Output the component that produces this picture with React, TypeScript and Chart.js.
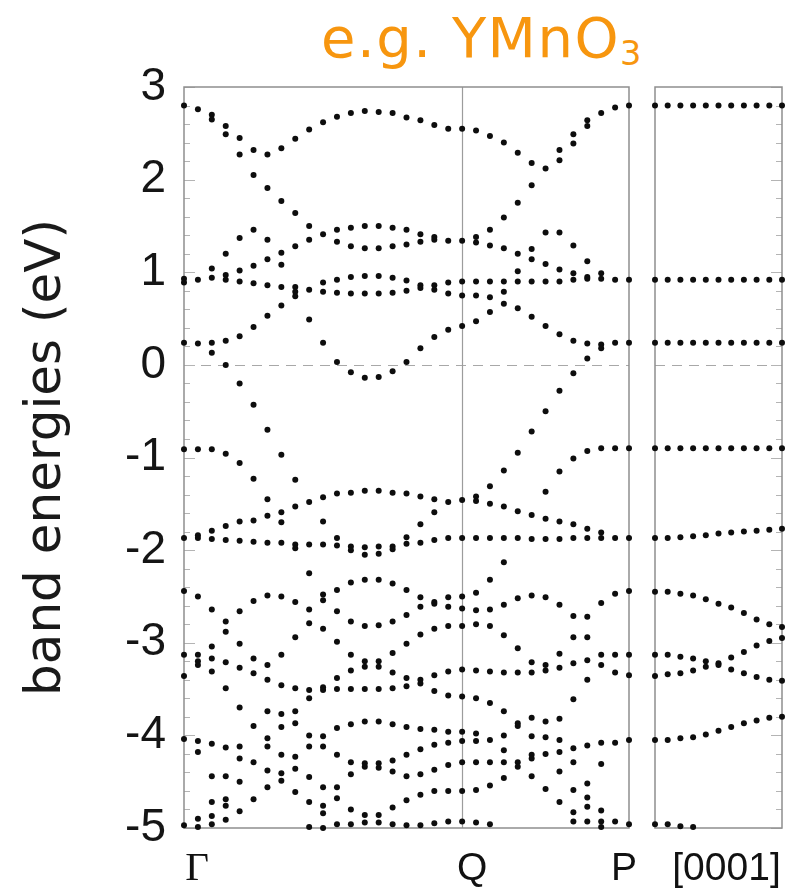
import React, { useEffect, useRef } from "react";
import { Chart, registerables } from "chart.js";

Chart.register(...registerables);

// ---------- axis / label data ----------
const yTickValues = [3, 2, 1, 0, -1, -2, -3, -4, -5];
const pathLabels = ["Γ", "Q", "P"];
const pathLabelK = [0, 20, 32];
const sideLabel = "[0001]";
const yTitle = "band energies (eV)";

// ---------- band energies (eV) of the dots at each k-point Γ → Q → P ----------
const k0 = [2.80, 0.93, 0.89, 0.24, -0.91, -1.87, -2.44, -3.13, -3.36, -4.04, -4.97];
const k1 = [2.76, 0.92, 0.23, -0.91, -1.84, -1.87, -2.50, -3.13, -3.20, -3.24, -4.06, -4.18, -4.90, -4.99];
const k2 = [2.70, 2.65, 1.04, 0.94, 0.24, 0.13, -0.91, -1.79, -1.88, -2.64, -3.04, -3.17, -3.31, -4.09, -4.44, -4.72, -4.87, -4.96];
const k3 = [2.58, 2.49, 1.20, 0.97, 0.92, 0.26, 0.00, -0.96, -1.74, -1.89, -2.77, -2.88, -3.21, -3.49, -4.13, -4.44, -4.69, -4.76, -4.91];
const k4 = [2.45, 2.27, 1.37, 1.02, 0.90, 0.31, -0.20, -1.06, -1.69, -1.90, -2.66, -3.01, -3.27, -3.70, -4.12, -4.25, -4.50, -4.82];
const k5 = [2.32, 2.05, 1.46, 1.07, 0.88, 0.41, -0.43, -1.23, -1.68, -1.91, -2.55, -3.17, -3.33, -3.90, -4.29, -4.69];
const k6 = [2.27, 1.91, 1.35, 1.14, 0.86, 0.53, -0.70, -1.45, -1.63, -1.92, -2.49, -3.24, -3.40, -3.74, -4.03, -4.12, -4.38, -4.56];
const k7 = [2.34, 1.77, 1.21, 1.08, 0.84, 0.64, -0.97, -1.59, -1.70, -1.92, -2.50, -3.13, -3.46, -3.77, -3.91, -4.21, -4.41, -4.49];
const k8 = [2.44, 1.64, 1.28, 0.84, 0.79, 0.74, -1.24, -1.53, -1.94, -1.98, -2.56, -2.94, -3.49, -3.74, -3.87, -4.23, -4.36, -4.61];
const k9 = [2.54, 1.50, 1.35, 0.81, 0.49, -1.48, -1.94, -2.25, -2.64, -2.79, -3.51, -3.60, -4.00, -4.12, -4.45, -4.72, -4.99];
const k10 = [2.62, 1.41, 0.89, 0.79, 0.24, -1.43, -1.69, -1.94, -2.48, -2.54, -2.85, -3.48, -3.51, -4.01, -4.12, -4.56, -4.76, -4.84, -5.00];
const k11 = [2.68, 1.46, 1.33, 0.92, 0.78, 0.03, -1.39, -1.87, -1.95, -2.43, -2.66, -2.99, -3.38, -3.50, -3.92, -4.21, -4.56, -4.68, -4.96];
const k12 = [2.72, 1.48, 1.28, 0.95, 0.77, -0.08, -1.38, -1.96, -2.00, -2.35, -2.77, -3.13, -3.30, -3.50, -3.88, -4.29, -4.42, -4.80, -4.96];
const k13 = [2.74, 1.50, 1.26, 0.96, 0.77, -0.14, -1.36, -1.97, -2.05, -2.32, -2.82, -3.20, -3.26, -3.50, -3.85, -4.30, -4.34, -4.86, -4.94];
const k14 = [2.73, 1.50, 1.26, 0.96, 0.77, -0.13, -1.36, -1.96, -2.04, -2.32, -2.81, -3.20, -3.26, -3.50, -3.85, -4.30, -4.35, -4.86, -4.94];
const k15 = [2.72, 1.48, 1.28, 0.94, 0.78, -0.07, -1.38, -1.96, -1.99, -2.36, -2.77, -3.11, -3.32, -3.49, -3.88, -4.27, -4.39, -4.78, -4.96];
const k16 = [2.67, 1.46, 1.30, 0.91, 0.80, 0.03, -1.39, -1.86, -1.93, -2.43, -2.70, -3.01, -3.38, -3.47, -3.91, -4.21, -4.44, -4.70, -4.97];
const k17 = [2.64, 1.41, 1.33, 0.86, 0.83, 0.18, -1.42, -1.72, -1.92, -2.51, -2.61, -2.91, -3.40, -3.44, -3.93, -4.15, -4.42, -4.64, -4.97];
const k18 = [2.59, 1.38, 1.35, 0.86, 0.81, 0.30, -1.45, -1.59, -1.89, -2.56, -2.58, -2.85, -3.35, -3.52, -3.94, -4.10, -4.37, -4.60, -4.95];
const k19 = [2.55, 1.34, 0.89, 0.77, 0.38, -1.48, -1.87, -2.51, -2.61, -2.82, -3.31, -3.57, -3.96, -4.08, -4.32, -4.60, -4.93];
const k20 = [2.55, 1.34, 0.90, 0.75, 0.42, -1.46, -1.87, -2.50, -2.63, -2.82, -3.29, -3.58, -3.96, -4.06, -4.29, -4.60, -4.93];
const k21 = [2.53, 1.38, 1.32, 0.90, 0.75, 0.47, -1.42, -1.47, -1.87, -2.46, -2.65, -2.80, -3.30, -3.60, -3.98, -4.06, -4.29, -4.59, -4.94];
const k22 = [2.47, 1.46, 1.29, 0.90, 0.73, 0.57, -1.31, -1.50, -1.87, -2.32, -2.64, -2.82, -3.31, -3.65, -4.05, -4.29, -4.54, -4.96];
const k23 = [2.40, 1.59, 1.26, 0.90, 0.79, 0.66, -1.14, -1.53, -1.87, -2.13, -2.59, -2.92, -3.32, -3.74, -4.00, -4.16, -4.29, -4.46];
const k24 = [2.29, 1.75, 1.20, 1.01, 0.90, 0.61, -0.95, -1.58, -1.87, -2.52, -3.06, -3.32, -3.87, -3.90, -4.29, -4.34];
const k25 = [2.18, 1.94, 1.25, 1.14, 0.90, 0.52, -0.72, -1.62, -1.88, -2.49, -3.21, -3.32, -3.81, -4.01, -4.21, -4.25, -4.44];
const k26 = [2.12, 1.43, 1.09, 0.90, 0.42, -0.50, -1.37, -1.66, -1.88, -2.51, -3.24, -3.30, -3.85, -4.02, -4.20, -4.58];
const k27 = [2.32, 2.21, 1.43, 1.03, 0.90, 0.33, -0.28, -1.15, -1.69, -1.88, -2.59, -3.12, -3.27, -3.82, -4.05, -4.18, -4.39, -4.72];
const k28 = [2.49, 2.39, 1.29, 0.99, 0.92, 0.26, -0.09, -1.01, -1.72, -1.87, -2.71, -2.94, -3.22, -3.61, -4.14, -4.29, -4.59, -4.83, -4.93];
const k29 = [2.64, 2.58, 1.12, 0.95, 0.93, 0.23, 0.07, -0.93, -1.77, -1.87, -2.72, -2.94, -3.19, -3.40, -4.11, -4.52, -4.67, -4.77, -4.93];
const k30 = [2.72, 0.99, 0.93, 0.22, 0.18, -0.90, -1.81, -1.87, -2.57, -3.13, -3.24, -4.08, -4.31, -4.81, -4.93, -4.99];
const k31 = [2.78, 0.92, 0.24, -0.90, -1.87, -2.47, -3.13, -3.32, -4.08, -4.93];
const k32 = [2.80, 0.92, 0.24, -0.90, -1.87, -2.44, -3.13, -3.35, -4.05, -4.96];

const pathColumns = [k0, k1, k2, k3, k4, k5, k6, k7, k8, k9, k10, k11, k12, k13, k14, k15, k16,
  k17, k18, k19, k20, k21, k22, k23, k24, k25, k26, k27, k28, k29, k30, k31, k32];

// ---------- [0001] direction: bands over 11 k-points ----------
const c0001A = [2.80, 2.80, 2.80, 2.80, 2.80, 2.80, 2.80, 2.80, 2.80, 2.80, 2.80];
const c0001B = [0.92, 0.92, 0.92, 0.92, 0.92, 0.92, 0.92, 0.92, 0.92, 0.92, 0.92];
const c0001C = [0.24, 0.24, 0.24, 0.24, 0.24, 0.24, 0.24, 0.24, 0.24, 0.24, 0.24];
const c0001D = [-0.90, -0.90, -0.90, -0.90, -0.90, -0.90, -0.90, -0.90, -0.90, -0.90, -0.90];
const c0001E = [-1.87, -1.87, -1.86, -1.85, -1.84, -1.82, -1.81, -1.80, -1.79, -1.78, -1.77];
const c0001F = [-2.45, -2.45, -2.47, -2.49, -2.53, -2.58, -2.62, -2.68, -2.75, -2.80, -2.83];
const c0001G = [-3.13, -3.13, -3.15, -3.17, -3.20, -3.22, -3.16, -3.10, -3.03, -2.98, -2.95];
const c0001H = [-3.36, -3.34, -3.33, -3.30, -3.26, -3.24, -3.29, -3.33, -3.37, -3.40, -3.41];
const c0001I = [-4.05, -4.05, -4.03, -4.02, -3.99, -3.95, -3.91, -3.87, -3.84, -3.81, -3.80];
const c0001J = [-4.96, -4.96, -4.98, -4.99, null, null, null, null, null, null, null];

const sideBands = [c0001A, c0001B, c0001C, c0001D, c0001E, c0001F, c0001G, c0001H, c0001I, c0001J];

// ---------- styling ----------
const FRAME = "#8e8e8e";
const DOT = "#0d0d0d";

type Lbl = { v: number; text: string; dx: number; font: string };

function decorPlugin(tickSide: "left" | "right", vlines: number[], labels: Lbl[]) {
  return {
    id: "decor",
    beforeDatasetsDraw(chart: any) {
      const { ctx, chartArea: a, scales } = chart;
      const x = scales.x;
      const y = scales.y;
      ctx.save();
      // zero line (dashed)
      ctx.strokeStyle = "#a8a8a8";
      ctx.lineWidth = 1;
      ctx.setLineDash([10, 7]);
      const y0 = Math.round(y.getPixelForValue(0)) + 0.5;
      ctx.beginPath();
      ctx.moveTo(a.left, y0);
      ctx.lineTo(a.right, y0);
      ctx.stroke();
      ctx.setLineDash([]);
      // vertical symmetry lines
      ctx.strokeStyle = "#9c9c9c";
      ctx.lineWidth = 1.2;
      for (const v of vlines) {
        const px = Math.round(x.getPixelForValue(v)) + 0.5;
        ctx.beginPath();
        ctx.moveTo(px, a.top);
        ctx.lineTo(px, a.bottom);
        ctx.stroke();
      }
      // minor / major ticks every 0.2 eV
      ctx.strokeStyle = "#b4b4b4";
      ctx.lineWidth = 1;
      for (let n = 0; n <= 40; n++) {
        const v = y.min + n * 0.2;
        const py = Math.round(y.getPixelForValue(v)) + 0.5;
        const len = n % 5 === 0 ? 11 : 6;
        ctx.beginPath();
        if (tickSide === "left") {
          ctx.moveTo(a.left, py);
          ctx.lineTo(a.left + len, py);
        } else {
          ctx.moveTo(a.right, py);
          ctx.lineTo(a.right - len, py);
        }
        ctx.stroke();
      }
      // frame
      ctx.strokeStyle = FRAME;
      ctx.lineWidth = 1.5;
      ctx.strokeRect(a.left, a.top, a.right - a.left, a.bottom - a.top);
      ctx.restore();
    },
    afterDraw(chart: any) {
      const { ctx, scales } = chart;
      const x = scales.x;
      ctx.save();
      ctx.fillStyle = "#111";
      ctx.textAlign = "center";
      ctx.textBaseline = "middle";
      for (const l of labels) {
        ctx.font = l.font;
        ctx.fillText(l.text, x.getPixelForValue(l.v) + l.dx, 869);
      }
      ctx.restore();
    },
  };
}

const pointStyle = {
  showLine: false,
  pointRadius: 3.0,
  pointHoverRadius: 3.0,
  pointBackgroundColor: DOT,
  pointBorderWidth: 0,
  clip: false as any,
};

export default function App() {
  const leftRef = useRef<HTMLCanvasElement>(null);
  const rightRef = useRef<HTMLCanvasElement>(null);

  useEffect(() => {
    const leftPoints = pathColumns.flatMap((col, i) => col.map((e) => ({ x: i, y: e })));
    const rightPoints = sideBands.flatMap((b) =>
      b.map((e, i) => (e === null ? null : { x: i, y: e as number })).filter(Boolean)
    ) as { x: number; y: number }[];

    const sansLbl = '39px "Liberation Sans", Arial, sans-serif';
    const serifLbl = '41px "Liberation Serif", "DejaVu Serif", serif';

    const left = new Chart(leftRef.current!, {
      type: "scatter",
      data: { datasets: [{ data: leftPoints, ...pointStyle }] },
      options: {
        responsive: false,
        animation: false,
        events: [],
        layout: { padding: { left: 0, right: 16, top: 87, bottom: 66 } },
        plugins: { legend: { display: false }, tooltip: { enabled: false } },
        scales: {
          x: { type: "linear", min: 0, max: 32, display: false },
          y: {
            type: "linear",
            min: -5,
            max: 3,
            position: "left",
            afterFit: (s: any) => {
              s.width = 184;
            },
            afterBuildTicks: (s: any) => {
              s.ticks = yTickValues.map((v) => ({ value: v }));
            },
            grid: { display: false, drawTicks: false },
            border: { display: false },
            ticks: {
              padding: 18,
              color: "#151515",
              font: { family: '"Liberation Sans", Arial, sans-serif', size: 46 },
              callback: (v: any) => String(v),
            },
            title: {
              display: true,
              text: yTitle,
              color: "#1a1a1a",
              font: { family: '"DejaVu Sans", sans-serif', size: 50 },
              padding: { top: 17, bottom: 0 },
            },
          },
        },
      },
      plugins: [
        decorPlugin("left", [pathLabelK[1]], [
          { v: pathLabelK[0], text: pathLabels[0], dx: 13, font: serifLbl },
          { v: pathLabelK[1], text: pathLabels[1], dx: 10, font: sansLbl },
          { v: pathLabelK[2], text: pathLabels[2], dx: -5, font: sansLbl },
        ]),
      ],
    } as any);

    const right = new Chart(rightRef.current!, {
      type: "scatter",
      data: { datasets: [{ data: rightPoints, ...pointStyle }] },
      options: {
        responsive: false,
        animation: false,
        events: [],
        layout: { padding: { left: 10, right: 10, top: 87, bottom: 66 } },
        plugins: { legend: { display: false }, tooltip: { enabled: false } },
        scales: {
          x: { type: "linear", min: 0, max: 10, display: false },
          y: { type: "linear", min: -5, max: 3, display: false },
        },
      },
      plugins: [decorPlugin("right", [], [{ v: 5, text: sideLabel, dx: 8, font: sansLbl }])],
    } as any);

    return () => {
      left.destroy();
      right.destroy();
    };
  }, []);

  return (
    <div style={{ position: "absolute", left: 0, top: 0, width: 792, height: 894, background: "#fff", overflow: "hidden" }}>
      <div
        style={{
          position: "absolute",
          left: 321,
          top: 10,
          fontFamily: '"DejaVu Sans", sans-serif',
          fontSize: 56,
          lineHeight: 1,
          letterSpacing: "1.5px",
          color: "#F7960F",
          whiteSpace: "nowrap",
        }}
      >
        e.g. YMnO<sub style={{ fontSize: "0.6em", verticalAlign: "-0.25em", lineHeight: 0 }}>3</sub>
      </div>
      <canvas ref={leftRef} width={645} height={894} style={{ position: "absolute", left: 0, top: 0 }} />
      <canvas ref={rightRef} width={147} height={894} style={{ position: "absolute", left: 645, top: 0 }} />
    </div>
  );
}
